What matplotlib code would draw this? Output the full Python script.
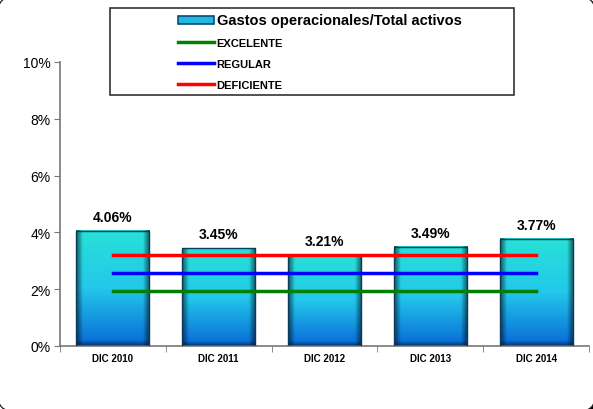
import numpy as np
import matplotlib.pyplot as plt
from matplotlib.patches import Rectangle, FancyBboxPatch, Patch
from matplotlib.lines import Line2D
from matplotlib.ticker import FuncFormatter, FixedLocator

plt.rcParams['font.family'] = ['Liberation Sans', 'DejaVu Sans']

periodos = ['DIC 2010', 'DIC 2011', 'DIC 2012', 'DIC 2013', 'DIC 2014']
gastos = [4.06, 3.45, 3.21, 3.49, 3.77]
excelente = [1.95, 1.95, 1.95, 1.95, 1.95]
regular = [2.58, 2.58, 2.58, 2.58, 2.58]
deficiente = [3.22, 3.22, 3.22, 3.22, 3.22]

fig = plt.figure(figsize=(5.93, 4.10), dpi=100)

# marco redondeado de la figura: los lados quedan fuera, solo se ven las esquinas
sombra = FancyBboxPatch((0.0, -0.045), 5.98, 4.145,
                        boxstyle='round,pad=0,rounding_size=0.15',
                        transform=fig.dpi_scale_trans, facecolor='black',
                        edgecolor='none', zorder=-3)
marco = FancyBboxPatch((-0.02, -0.02), 5.97, 4.14,
                       boxstyle='round,pad=0,rounding_size=0.15',
                       transform=fig.dpi_scale_trans, facecolor='white',
                       edgecolor='#222222', lw=0.9, zorder=-2)
fig.patches.extend([sombra, marco])

ax = fig.add_axes([60 / 593, 63 / 410, 529 / 593, 284 / 410])
ax.patch.set_alpha(0)

x = np.arange(len(periodos))
ancho = 0.69

# degradado de las barras
ny, nx = 200, 60
t = np.linspace(0, 1, ny)[:, None]  # 0 abajo, 1 arriba
top = np.array([40, 225, 215]) / 255
mid = np.array([35, 200, 235]) / 255
bot = np.array([8, 105, 215]) / 255
col = np.where(t[..., None] > 0.5,
               mid + (top - mid) * ((t[..., None] - 0.5) / 0.5),
               bot + (mid - bot) * (t[..., None] / 0.5))
col = np.repeat(col, nx, axis=1)
u = np.linspace(0, 1, nx)[None, :]
borde = np.clip(np.minimum(u, 1 - u) / 0.09, 0, 1)
col = col * (0.45 + 0.55 * borde[..., None])
vb = np.clip(t / 0.05, 0, 1)
col = col * (0.5 + 0.5 * vb[..., None])
col = np.clip(col, 0, 1)

for xi, v in zip(x, gastos):
    ax.imshow(col, extent=[xi - ancho / 2, xi + ancho / 2, 0, v],
              origin='lower', aspect='auto', zorder=2)
    ax.add_patch(Rectangle((xi - ancho / 2, 0), ancho, v, fill=False,
                           edgecolor='#0b3a5a', lw=1.0, zorder=3))
    ax.text(xi, v + 0.25, f'{v:.2f}%', ha='center', va='bottom',
            fontsize=10, fontweight='bold', zorder=5)

ax.plot(x, excelente, color='#008000', lw=2.5, zorder=4)
ax.plot(x, regular, color='#0000ff', lw=2.5, zorder=4)
ax.plot(x, deficiente, color='#ff0000', lw=2.5, zorder=4)

ax.set_xlim(-0.5, 4.5)
ax.set_ylim(0, 10)
ax.set_yticks([0, 2, 4, 6, 8, 10])
ax.yaxis.set_major_formatter(FuncFormatter(lambda v, p: f'{v:.0f}%'))
ax.tick_params(axis='y', labelsize=10, length=4, color='#777777', pad=3)
ax.set_xticks(x)
ax.set_xticklabels(periodos, fontsize=7, fontweight='bold')
ax.tick_params(axis='x', which='major', length=0, pad=5)
ax.xaxis.set_minor_locator(FixedLocator(np.arange(-0.5, 5, 1)))
ax.tick_params(axis='x', which='minor', length=4, color='#777777')
for s in ['top', 'right']:
    ax.spines[s].set_visible(False)
for s in ['left', 'bottom']:
    ax.spines[s].set_color('#777777')
    ax.spines[s].set_linewidth(1.2)

# leyenda
fig.patches.append(Rectangle((110 / 593, 314 / 410), 404 / 593, 87 / 410,
                             transform=fig.transFigure, fill=False,
                             edgecolor='#333333', lw=1.2, zorder=5))
handles = [Patch(facecolor='#22b8e0', edgecolor='#0b4a7a', lw=1.2),
           Line2D([], [], color='#008000', lw=2.5),
           Line2D([], [], color='#0000ff', lw=2.5),
           Line2D([], [], color='#ff0000', lw=2.5)]
labels = ['Gastos operacionales/Total activos', 'EXCELENTE', 'REGULAR', 'DEFICIENTE']
leg = fig.legend(handles, labels, loc='upper left',
                 bbox_to_anchor=(170 / 593, 404 / 410), frameon=False,
                 prop={'size': 8, 'weight': 'bold'}, handlelength=3.3,
                 handleheight=0.8, handletextpad=0.2, labelspacing=1.0,
                 borderpad=0.2)
leg.get_texts()[0].set_fontsize(10.5)

fig.savefig('out.png', dpi=100)
